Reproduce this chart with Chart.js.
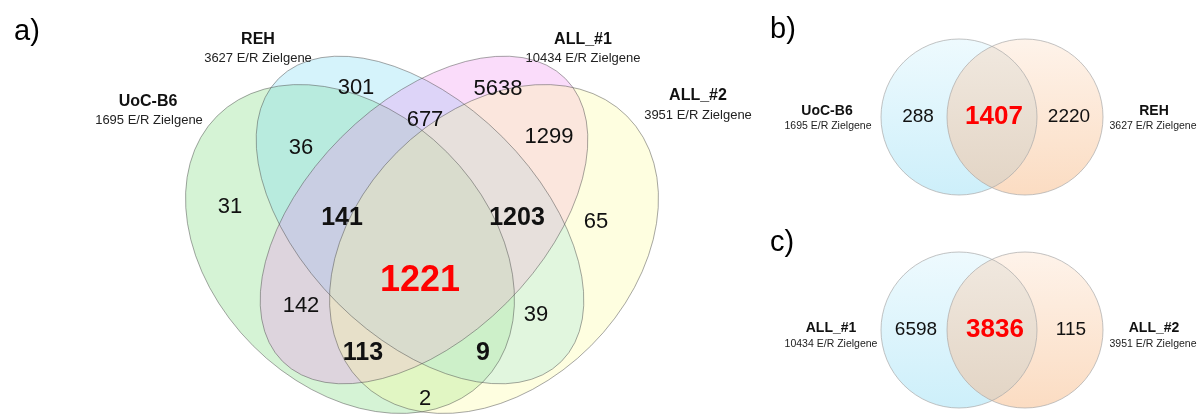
<!DOCTYPE html>
<html>
<head>
<meta charset="utf-8">
<script src="https://cdn.jsdelivr.net/npm/chart.js@4"></script>
<style>
  html, body { margin: 0; padding: 0; background: #fff; }
  canvas { display: block; }
</style>
</head>
<body>
<canvas id="vennChart" width="1203" height="415"></canvas>
<script>
// ---- data ----
const setNames = ['UoC-B6', 'REH', 'ALL_#1', 'ALL_#2'];
const setTotals = [1695, 3627, 10434, 3951];
// A = UoC-B6, B = REH, C = ALL_#1, D = ALL_#2
const regionSets = ['A', 'B', 'C', 'D', 'AB', 'BC', 'CD', 'AC', 'BD', 'AD', 'ABC', 'BCD', 'ACD', 'ABD', 'ABCD'];
const regionCounts = [31, 301, 5638, 65, 36, 677, 1299, 142, 39, 2, 141, 1203, 113, 9, 1221];

const pairBNames = ['UoC-B6', 'REH'];
const pairBTotals = [1695, 3627];
const pairBCounts = [288, 1407, 2220]; // left only, both, right only

const pairCNames = ['ALL_#1', 'ALL_#2'];
const pairCTotals = [10434, 3951];
const pairCCounts = [6598, 3836, 115];

const totalSuffix = ' E/R Zielgene';
const panelLetters = ['a)', 'b)', 'c)'];

// ---- layout (axis units == canvas pixels) ----
const ellipses = [
  { x: 350, y: 249, a: 188, b: 137, rot: 45,  fill: 'rgba(115,215,115,0.3)' },
  { x: 420, y: 220, a: 200, b: 117, rot: 45,  fill: 'rgba(115,215,242,0.3)' },
  { x: 424, y: 220, a: 200, b: 117, rot: -45, fill: 'rgba(238,138,238,0.3)' },
  { x: 494, y: 249, a: 188, b: 137, rot: -45, fill: 'rgba(252,252,152,0.3)' }
];
const regionPos = [[230, 207], [356, 88], [498, 89], [596, 222], [301, 148], [425, 120], [549, 137],
  [301, 306], [536, 315], [425, 399], [342, 218], [517, 218], [363, 353], [483, 353], [420, 281]];
const namePos = [[148, 102], [258, 40], [583, 40], [698, 96]];
const totalPos = [[149, 120], [258, 58], [583, 58], [698, 115]];

const circlesB = [{ x: 959, y: 117, r: 78 }, { x: 1025, y: 117, r: 78 }];
const circlesC = [{ x: 959, y: 330, r: 78 }, { x: 1025, y: 330, r: 78 }];
const pairBCountPos = [[918, 117], [994, 117], [1069, 117]];
const pairCCountPos = [[916, 330], [995, 330], [1071, 330]];
const pairBNamePos = [[827, 111], [1154, 111]];
const pairBTotalPos = [[828, 126], [1153, 126]];
const pairCNamePos = [[831, 328], [1154, 328]];
const pairCTotalPos = [[831, 344], [1153, 344]];
const letterPos = [[14, 32], [770, 30], [770, 243]];

const FONT = '"Liberation Sans", Arial, sans-serif';

function pts(list) {
  return list.map(p => ({ x: p[0], y: p[1] }));
}

function textSet(points, texts, fonts, colors, align) {
  return {
    kind: 'text',
    data: pts(points),
    texts: texts,
    fonts: fonts,
    colors: colors,
    align: align || 'center'
  };
}

// region style depends on how many sets it belongs to
const regionFonts = regionSets.map(s => s.length === 4 ? 'bold 36px ' + FONT : s.length === 3 ? 'bold 25px ' + FONT : '22px ' + FONT);
const regionColors = regionSets.map(s => s.length === 4 ? '#ff0000' : '#111');

const datasets = [
  { kind: 'ellipse', data: ellipses.map(e => ({ ...e })) },
  { kind: 'pair', data: circlesB.map(c => ({ ...c })) },
  { kind: 'pair', data: circlesC.map(c => ({ ...c })) },
  textSet(regionPos, regionCounts.map(String), regionFonts, regionColors),
  textSet(namePos, setNames, 'bold 16px ' + FONT, '#111'),
  textSet(totalPos, setTotals.map(t => t + totalSuffix), '13px ' + FONT, '#222'),
  textSet(pairBCountPos, pairBCounts.map(String), ['19px ' + FONT, 'bold 26px ' + FONT, '19px ' + FONT], ['#111', '#ff0000', '#111']),
  textSet(pairCCountPos, pairCCounts.map(String), ['19px ' + FONT, 'bold 26px ' + FONT, '19px ' + FONT], ['#111', '#ff0000', '#111']),
  textSet(pairBNamePos, pairBNames, 'bold 14px ' + FONT, '#111'),
  textSet(pairBTotalPos, pairBTotals.map(t => t + totalSuffix), '10.5px ' + FONT, '#222'),
  textSet(pairCNamePos, pairCNames, 'bold 14px ' + FONT, '#111'),
  textSet(pairCTotalPos, pairCTotals.map(t => t + totalSuffix), '10.5px ' + FONT, '#222'),
  textSet(letterPos, panelLetters, '29px ' + FONT, '#000', 'left')
];

function pick(v, i) {
  return Array.isArray(v) ? v[i] : v;
}

// draws the ellipses / circles and the texts at the positions the scales give
const vennPlugin = {
  id: 'vennPlugin',
  beforeDatasetsDraw(chart) {
    const ctx = chart.ctx;
    const xs = chart.scales.x, ys = chart.scales.y;
    chart.data.datasets.forEach((ds, i) => {
      const meta = chart.getDatasetMeta(i);
      if (ds.kind === 'ellipse') {
        const path = (pt, e) => {
          const rx = xs.getPixelForValue(e.x + e.a) - pt.x;
          const ry = xs.getPixelForValue(e.x + e.b) - pt.x;
          ctx.beginPath();
          ctx.ellipse(pt.x, pt.y, rx, ry, e.rot * Math.PI / 180, 0, Math.PI * 2);
        };
        // fills first, then outlines on top
        meta.data.forEach((pt, j) => {
          ctx.save();
          path(pt, ds.data[j]);
          ctx.fillStyle = ds.data[j].fill;
          ctx.fill();
          ctx.restore();
        });
        meta.data.forEach((pt, j) => {
          ctx.save();
          path(pt, ds.data[j]);
          ctx.strokeStyle = 'rgba(80,80,80,0.5)';
          ctx.lineWidth = 1;
          ctx.stroke();
          ctx.restore();
        });
      }
      if (ds.kind === 'pair') {
        const c = meta.data.map((pt, j) => ({
          x: pt.x, y: pt.y,
          r: ys.getPixelForValue(ds.data[j].y + ds.data[j].r) - pt.y
        }));
        const grad = (circle, top, bottom) => {
          const g = ctx.createLinearGradient(0, circle.y - circle.r, 0, circle.y + circle.r);
          g.addColorStop(0, top);
          g.addColorStop(1, bottom);
          return g;
        };
        const circlePath = (circle) => {
          ctx.beginPath();
          ctx.arc(circle.x, circle.y, circle.r, 0, Math.PI * 2);
        };
        ctx.save();
        circlePath(c[0]);
        ctx.fillStyle = grad(c[0], '#eefafe', '#cdeffa');
        ctx.fill();
        circlePath(c[1]);
        ctx.fillStyle = grad(c[1], '#fef3ea', '#fbdcc2');
        ctx.fill();
        // overlap
        circlePath(c[0]);
        ctx.clip();
        circlePath(c[1]);
        ctx.fillStyle = grad(c[1], '#f1e9e0', '#e2d4c4');
        ctx.fill();
        ctx.restore();
        ctx.save();
        ctx.strokeStyle = 'rgba(170,170,170,0.7)';
        ctx.lineWidth = 1;
        circlePath(c[0]);
        ctx.stroke();
        circlePath(c[1]);
        ctx.stroke();
        ctx.restore();
      }
    });
  },
  afterDatasetsDraw(chart) {
    const ctx = chart.ctx;
    chart.data.datasets.forEach((ds, i) => {
      if (ds.kind !== 'text') return;
      const meta = chart.getDatasetMeta(i);
      meta.data.forEach((pt, j) => {
        ctx.save();
        ctx.font = pick(ds.fonts, j);
        ctx.fillStyle = pick(ds.colors, j);
        ctx.textAlign = ds.align;
        ctx.textBaseline = 'middle';
        ctx.fillText(ds.texts[j], pt.x, pt.y);
        ctx.restore();
      });
    });
  }
};

new Chart(document.getElementById('vennChart'), {
  type: 'scatter',
  data: { datasets: datasets },
  options: {
    responsive: false,
    animation: false,
    devicePixelRatio: 1,
    layout: { padding: 0 },
    elements: { point: { radius: 0, hoverRadius: 0, hitRadius: 0 } },
    scales: {
      x: { type: 'linear', min: 0, max: 1203, display: false },
      y: { type: 'linear', min: 0, max: 415, reverse: true, display: false }
    },
    plugins: {
      legend: { display: false },
      tooltip: { enabled: false }
    }
  },
  plugins: [vennPlugin]
});
</script>
</body>
</html>
